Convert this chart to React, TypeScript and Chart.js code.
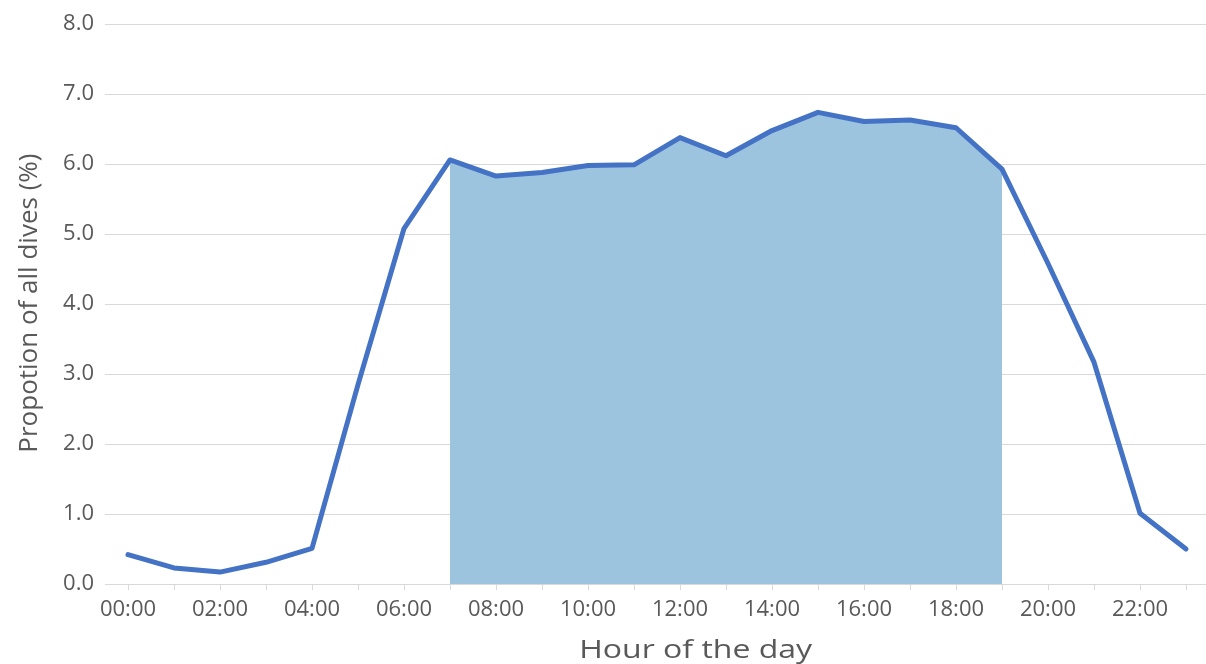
import React, { useEffect, useRef } from "react";
import { Chart, registerables } from "chart.js";

Chart.register(...registerables);

const HOURS: string[] = [
  "00:00", "01:00", "02:00", "03:00", "04:00", "05:00", "06:00", "07:00",
  "08:00", "09:00", "10:00", "11:00", "12:00", "13:00", "14:00", "15:00",
  "16:00", "17:00", "18:00", "19:00", "20:00", "21:00", "22:00", "23:00",
];

const DIVE_PROPORTION: number[] = [
  0.42, 0.23, 0.17, 0.31, 0.51, 2.85, 5.08, 6.06,
  5.83, 5.88, 5.98, 5.99, 6.38, 6.12, 6.48, 6.74,
  6.61, 6.63, 6.52, 5.93, 4.58, 3.17, 1.01, 0.5,
];

const DAY_START = 7; // 07:00
const DAY_END = 19; // 19:00

const Y_MIN = 0;
const Y_MAX = 8;
const Y_STEP = 1;

const X_TITLE = "Hour of the day";
const Y_TITLE = "Propotion of all dives (%)";

const FONT = "'Open Sans', 'DejaVu Sans', sans-serif";
const TEXT_COLOR = "#595959";
const GRID_COLOR = "#D9D9D9";
const LINE_COLOR = "#4472C4";
const SHADE_COLOR = "#9DC4DF";

const CANVAS_W = 1212;
const CANVAS_H = 664;

const axisTitles = {
  id: "axisTitles",
  afterDraw(chart: any) {
    const { ctx, chartArea } = chart;
    ctx.save();
    ctx.fillStyle = TEXT_COLOR;
    ctx.font = `25px ${FONT}`;
    ctx.textAlign = "center";
    ctx.textBaseline = "alphabetic";
    const cx = chartArea.left + (chartArea.right - chartArea.left) * 0.535;
    const cy = chartArea.bottom + 74;
    ctx.translate(cx, cy);
    ctx.scale(1.28, 1);
    ctx.fillText(X_TITLE, 0, 0);
    ctx.restore();

    ctx.save();
    ctx.fillStyle = TEXT_COLOR;
    ctx.font = `26px ${FONT}`;
    ctx.textAlign = "center";
    ctx.textBaseline = "alphabetic";
    ctx.translate(37, (chartArea.top + chartArea.bottom) / 2 - 1);
    ctx.rotate(-Math.PI / 2);
    ctx.fillText(Y_TITLE, 0, 0);
    ctx.restore();
  },
};

export default function App() {
  const ref = useRef<HTMLCanvasElement | null>(null);

  useEffect(() => {
    if (!ref.current) return;
    const shaded = DIVE_PROPORTION.map((v, i) =>
      i >= DAY_START && i <= DAY_END ? v : null
    );
    const chart = new Chart(ref.current, {
      type: "line",
      data: {
        labels: HOURS,
        datasets: [
          {
            label: "Daytime",
            data: shaded,
            order: 2,
            fill: "origin",
            backgroundColor: SHADE_COLOR,
            borderWidth: 0,
            borderColor: "rgba(0,0,0,0)",
            pointRadius: 0,
            spanGaps: false,
          },
          {
            label: "Proportion of dives",
            data: DIVE_PROPORTION,
            order: 1,
            fill: false,
            borderColor: LINE_COLOR,
            borderWidth: 5,
            borderJoinStyle: "round",
            borderCapStyle: "round",
            pointRadius: 0,
            tension: 0,
          },
        ],
      },
      options: {
        responsive: false,
        animation: false,
        devicePixelRatio: 1,
        layout: { padding: { top: 23, right: 3, left: 0, bottom: 0 } },
        plugins: {
          legend: { display: false },
          tooltip: { enabled: false },
          title: { display: false },
        },
        scales: {
          x: {
            type: "category",
            offset: true,
            grid: {
              display: true,
              drawOnChartArea: false,
              drawTicks: true,
              tickLength: 6,
              color: GRID_COLOR,
              offset: false,
            },
            border: { display: true, color: GRID_COLOR, width: 1 },
            ticks: {
              autoSkip: false,
              maxRotation: 0,
              minRotation: 0,
              padding: 7,
              color: TEXT_COLOR,
              font: { family: FONT, size: 22 },
              callback: (_v: any, i: number) => (i % 2 === 0 ? HOURS[i] : ""),
            },
            afterFit: (scale: any) => {
              scale.height = 80;
            },
          },
          y: {
            min: Y_MIN,
            max: Y_MAX,
            grid: { color: GRID_COLOR, lineWidth: 1, drawTicks: false },
            border: { display: false },
            ticks: {
              stepSize: Y_STEP,
              padding: 11,
              color: TEXT_COLOR,
              font: { family: FONT, size: 22 },
              callback: (v: any) => Number(v).toFixed(1),
            },
            afterFit: (scale: any) => {
              scale.width = 105;
            },
          },
        },
      },
      plugins: [axisTitles],
    });
    return () => chart.destroy();
  }, []);

  return (
    <div
      style={{
        position: "absolute",
        left: 0,
        top: 0,
        width: 1206,
        height: 664,
        overflow: "hidden",
        background: "#ffffff",
      }}
    >
      <canvas
        ref={ref}
        width={CANVAS_W}
        height={CANVAS_H}
        style={{ width: CANVAS_W, height: CANVAS_H, display: "block" }}
      />
    </div>
  );
}
